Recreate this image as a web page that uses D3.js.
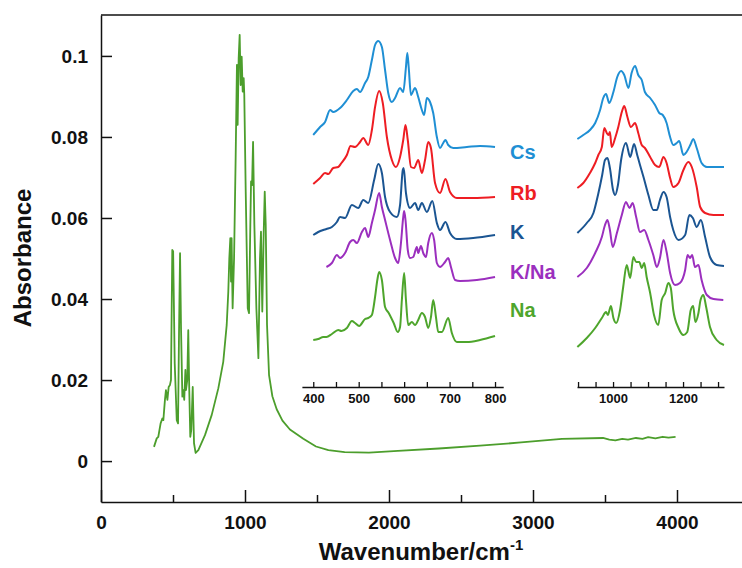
<!DOCTYPE html>
<html><head><meta charset="utf-8">
<script src="https://cdn.jsdelivr.net/npm/d3@7"></script>
<style>
html,body{margin:0;padding:0;background:#fff;}
svg{display:block;font-family:"Liberation Sans",Arial,sans-serif;font-weight:bold;}
</style></head><body>
<svg id="c" width="742" height="568"></svg>
<script>
// ---------- main spectrum (Na) ----------
const mainWavenumber = [368,387,398,414,426,433,444,451,461,470,479,486,495,501,512,526,535,542,549,556,565,572,578,586,590,599,606,613,620,627,637,646,657,676,722,769,815,849,873,884,891,898,903,907,914,924,935,944,949,956,963,970,977,984,991,995,1005,1019,1028,1037,1042,1049,1056,1065,1079,1093,1104,1111,1120,1130,1137,1144,1153,1167,1190,1220,1260,1312,1405,1493,1579,1692,1861,2062,2347,2632,2917,3201,3486,3530,3572,3620,3660,3715,3760,3800,3850,3900,3941,3990];
const mainAbsorbance = [0.0035,0.0056,0.0060,0.0093,0.0105,0.0101,0.0151,0.0175,0.0151,0.0183,0.0188,0.0200,0.0521,0.0518,0.0241,0.0101,0.0093,0.0323,0.0513,0.0323,0.0159,0.0175,0.0151,0.0225,0.0175,0.0200,0.0323,0.0175,0.0060,0.0077,0.0183,0.0044,0.0020,0.0027,0.0064,0.0114,0.0180,0.0245,0.0336,0.0418,0.0500,0.0550,0.0443,0.0550,0.0377,0.0500,0.0747,0.0978,0.0830,0.0994,0.1052,0.0928,0.0998,0.0912,0.0945,0.0904,0.0665,0.0377,0.0365,0.0583,0.0690,0.0681,0.0788,0.0583,0.0377,0.0254,0.0500,0.0566,0.0369,0.0566,0.0665,0.0583,0.0336,0.0212,0.0160,0.0128,0.0100,0.0078,0.0055,0.0036,0.0027,0.0022,0.0021,0.0025,0.0031,0.0038,0.0046,0.0055,0.0057,0.0053,0.0051,0.0055,0.0053,0.0057,0.0055,0.0059,0.0056,0.0060,0.0058,0.0060];
const mainYTicks = [0,0.02,0.04,0.06,0.08,0.1];
const mainYTickLabels = ["0","0.02","0.04","0.06","0.08","0.1"];
const mainXTicks = [0,1000,2000,3000,4000];
const mainXMinor = [500,1500,2500,3500,4500];

// ---------- inset spectra (stacked, arbitrary units) ----------
const seriesNames = ["Cs","Rb","K","K/Na","Na"];
const seriesColors = ["#1f8fd4","#ee1d23","#1b5592","#9b2fbe","#4ea52c"];

// left panel 400-800 cm-1
const csLeftX = [400,415,426,437,444,459,474,488,496,503,514,521,529,536,543,551,558,565,573,580,591,598,604,607,610,615,624,631,639,644,650,657,664,672,679,686,691,697,708,738,767,800];
const csLeftY = [2.65,2.73,2.78,2.90,2.88,2.92,3.00,3.09,3.11,3.08,3.17,3.23,3.40,3.55,3.59,3.53,3.30,3.07,2.98,3.02,3.12,3.08,3.33,3.47,3.33,3.05,3.12,3.03,2.90,2.85,3.02,2.98,2.87,2.63,2.52,2.57,2.60,2.55,2.52,2.53,2.54,2.53];
const rbLeftX = [400,415,426,433,444,455,462,474,482,492,503,510,521,529,536,545,553,562,573,582,591,598,603,608,615,622,631,639,646,653,659,668,679,691,701,716,752,800];
const rbLeftY = [2.16,2.22,2.27,2.26,2.32,2.33,2.37,2.45,2.54,2.53,2.58,2.62,2.55,2.70,2.93,3.09,2.97,2.63,2.40,2.33,2.43,2.60,2.75,2.60,2.33,2.32,2.40,2.27,2.40,2.58,2.52,2.17,2.07,2.21,2.08,2.02,2.02,2.03];
const kLeftX = [400,411,422,429,441,452,459,470,485,499,510,521,534,543,551,558,569,584,591,597,599,604,613,624,631,639,650,662,672,679,691,701,716,752,800];
const kLeftY = [1.65,1.68,1.70,1.71,1.73,1.78,1.83,1.82,1.95,1.92,2.00,1.97,2.20,2.36,2.27,2.03,1.88,1.83,1.95,2.30,2.32,2.07,1.92,1.97,1.90,1.97,1.88,1.99,1.77,1.70,1.78,1.67,1.61,1.62,1.65];
const knaLeftX = [429,441,452,459,470,481,488,496,507,514,521,529,536,545,551,558,569,580,587,593,598,600,603,608,613,620,628,631,637,642,648,653,661,666,672,679,690,697,703,712,723,760,800];
const knaLeftY = [1.33,1.37,1.45,1.42,1.47,1.58,1.60,1.57,1.68,1.72,1.63,1.77,1.90,2.07,1.93,1.80,1.60,1.42,1.37,1.57,1.83,1.89,1.80,1.50,1.42,1.43,1.53,1.47,1.54,1.47,1.43,1.57,1.67,1.60,1.37,1.33,1.38,1.42,1.33,1.20,1.19,1.20,1.23];
const naLeftX = [400,411,422,429,441,455,462,474,485,492,501,514,521,529,536,541,545,551,558,566,577,586,591,595,600,604,609,617,624,631,639,646,653,659,664,670,675,683,697,705,716,738,767,800];
const naLeftY = [0.60,0.61,0.63,0.63,0.66,0.70,0.69,0.72,0.79,0.77,0.74,0.81,0.82,0.85,1.03,1.20,1.28,1.20,0.93,0.87,0.77,0.68,0.73,1.00,1.27,1.00,0.75,0.78,0.75,0.80,0.87,0.83,0.72,0.83,1.00,0.83,0.68,0.68,0.82,0.67,0.58,0.58,0.60,0.64];

// right panel 900-1300 cm-1
const csRightX = [898,915,934,949,963,972,980,989,1001,1012,1023,1032,1044,1053,1063,1072,1082,1091,1106,1120,1132,1142,1153,1163,1172,1182,1189,1201,1210,1222,1229,1239,1253,1268,1317];
const csRightY = [2.61,2.65,2.70,2.77,2.90,3.02,3.06,2.97,3.08,3.23,3.29,3.25,3.12,3.27,3.34,3.25,3.20,3.08,3.02,2.95,2.87,2.85,2.77,2.63,2.55,2.57,2.59,2.45,2.48,2.56,2.61,2.52,2.37,2.33,2.33];
const rbRightX = [898,915,934,949,958,968,975,982,987,991,996,1006,1015,1025,1032,1041,1051,1063,1072,1082,1091,1106,1120,1132,1144,1153,1163,1172,1187,1201,1215,1225,1239,1249,1263,1287,1317];
const rbRightY = [2.12,2.17,2.27,2.37,2.45,2.53,2.72,2.67,2.65,2.68,2.53,2.62,2.73,2.88,2.94,2.83,2.73,2.77,2.67,2.55,2.52,2.43,2.35,2.33,2.43,2.37,2.22,2.13,2.17,2.30,2.38,2.33,2.13,1.93,1.87,1.85,1.85];
const kRightX = [898,925,944,957,969,977,984,991,1000,1006,1014,1023,1037,1049,1060,1069,1077,1087,1101,1115,1125,1134,1144,1153,1163,1172,1187,1206,1218,1228,1239,1251,1263,1277,1296,1317];
const kRightY = [1.67,1.77,1.87,2.05,2.25,2.40,2.42,2.32,2.10,2.05,2.15,2.40,2.57,2.43,2.56,2.45,2.35,2.23,2.05,1.90,1.90,2.00,2.08,2.03,1.83,1.70,1.60,1.65,1.85,1.82,1.73,1.80,1.63,1.43,1.35,1.34];
const knaRightX = [898,925,949,968,977,984,991,999,1011,1025,1037,1047,1056,1066,1077,1089,1101,1115,1125,1134,1144,1153,1163,1177,1191,1206,1213,1220,1226,1234,1244,1253,1268,1287,1315];
const knaRightY = [1.23,1.32,1.47,1.63,1.75,1.80,1.70,1.53,1.67,1.85,1.98,1.92,1.97,1.83,1.68,1.70,1.60,1.45,1.33,1.42,1.60,1.48,1.27,1.15,1.17,1.30,1.45,1.42,1.45,1.33,1.35,1.20,1.05,1.01,1.00];
const naRightX = [898,925,949,968,980,985,994,1001,1009,1020,1029,1039,1049,1058,1066,1075,1082,1089,1096,1106,1117,1129,1139,1149,1158,1165,1172,1187,1201,1212,1222,1229,1235,1244,1250,1258,1266,1277,1296,1317];
const naRightY = [0.53,0.62,0.72,0.82,0.88,0.85,0.94,0.82,0.77,0.90,1.13,1.35,1.22,1.43,1.38,1.38,1.32,1.37,1.23,1.07,0.85,0.75,1.00,1.07,1.17,1.12,0.90,0.72,0.65,0.68,0.90,0.94,0.78,0.87,1.00,1.05,0.93,0.73,0.60,0.55];

const leftTicks = [400,450,500,550,600,650,700,750,800];
const leftTickLabels = [400,500,600,700,800];
const rightTicks = [900,950,1000,1050,1100,1150,1200,1250,1300];
const rightTickLabels = [1000,1200];

// ---------- drawing ----------
const svg = d3.select("#c");
const black = "#111";

const x = d3.scaleLinear().domain([0,4500]).range([101,749]);
const y = d3.scaleLinear().domain([-0.0101,0.1101]).range([502,15]);

// frame top line
svg.append("line").attr("x1",x(0)).attr("x2",x(4500)).attr("y1",y(0.1101)).attr("y2",y(0.1101))
  .attr("stroke",black).attr("stroke-width",1.5);

const yAxis = d3.axisLeft(y).tickValues(mainYTicks)
  .tickFormat((d,i)=>mainYTickLabels[i]).tickSize(-11).tickSizeOuter(0).tickPadding(13);
const gy = svg.append("g").attr("transform",`translate(${x(0)},0)`).call(yAxis);

const xAxis = d3.axisBottom(x).tickValues(mainXTicks).tickFormat(d3.format("d"))
  .tickSize(-12).tickSizeOuter(0).tickPadding(14);
const gx = svg.append("g").attr("transform",`translate(0,${y(-0.0101)})`).call(xAxis);
const xMinor = d3.axisBottom(x).tickValues(mainXMinor).tickFormat("").tickSize(-7).tickSizeOuter(0);
svg.append("g").attr("transform",`translate(0,${y(-0.0101)})`).call(xMinor).select(".domain").remove();

svg.selectAll(".domain").attr("stroke",black).attr("stroke-width",1.5);
svg.selectAll(".tick line").attr("stroke",black).attr("stroke-width",1.5);
gy.selectAll("text").attr("font-size",19).attr("font-weight","bold").attr("fill",black)
  .attr("font-family","Liberation Sans, Arial, sans-serif");
gx.selectAll("text").attr("font-size",19).attr("font-weight","bold").attr("fill",black)
  .attr("font-family","Liberation Sans, Arial, sans-serif");

// axis titles
svg.append("text").attr("transform","translate(31,258) rotate(-90)").attr("text-anchor","middle")
  .attr("font-size",24).attr("fill",black).text("Absorbance");
const xt = svg.append("text").attr("x",421).attr("y",560).attr("text-anchor","middle")
  .attr("font-size",24).attr("fill",black);
xt.append("tspan").text("Wavenumber/cm");
xt.append("tspan").attr("dy",-10).attr("font-size",15).text("-1");

// main spectrum
const mainLine = d3.line().x(d=>x(d[0])).y(d=>y(d[1]));
svg.append("path").datum(mainWavenumber.map((w,i)=>[w,mainAbsorbance[i]]))
  .attr("d",mainLine).attr("fill","none").attr("stroke","#4c9e2c").attr("stroke-width",1.8)
  .attr("stroke-linejoin","round");

// insets
const yi = d3.scaleLinear().domain([0,4]).range([400,0]);
const xl = d3.scaleLinear().domain([375,818]).range([301.9,503.2]);
const xr = d3.scaleLinear().domain([897,1317]).range([577,724]);
const insetAxisY = 387;

function insetAxis(scale, ticks, labels){
  const ax = d3.axisBottom(scale).tickValues(ticks)
    .tickFormat(d=>labels.includes(d)?d:"").tickSize(-5).tickSizeOuter(0).tickPadding(7);
  const g = svg.append("g").attr("transform",`translate(0,${insetAxisY})`).call(ax);
  g.select(".domain").attr("stroke",black).attr("stroke-width",1.5);
  g.selectAll(".tick line").attr("stroke",black).attr("stroke-width",1.3);
  g.selectAll("text").attr("font-size",13).attr("font-weight","bold").attr("fill",black)
   .attr("font-family","Liberation Sans, Arial, sans-serif");
}
insetAxis(xl,leftTicks,leftTickLabels);
insetAxis(xr,rightTicks,rightTickLabels);

const leftSets = [[csLeftX,csLeftY],[rbLeftX,rbLeftY],[kLeftX,kLeftY],[knaLeftX,knaLeftY],[naLeftX,naLeftY]];
const rightSets = [[csRightX,csRightY],[rbRightX,rbRightY],[kRightX,kRightY],[knaRightX,knaRightY],[naRightX,naRightY]];
function drawSet(sets, sx){
  const ln = d3.line().x(d=>sx(d[0])).y(d=>yi(d[1])).curve(d3.curveMonotoneX);
  sets.forEach((s,i)=>{
    svg.append("path").datum(s[0].map((w,j)=>[w,s[1][j]])).attr("d",ln)
      .attr("fill","none").attr("stroke",seriesColors[i]).attr("stroke-width",2)
      .attr("stroke-linejoin","round");
  });
}
drawSet(leftSets,xl);
drawSet(rightSets,xr);

// series labels
const labelY = [159,200,239,279,317];
seriesNames.forEach((n,i)=>{
  svg.append("text").attr("x",510).attr("y",labelY[i]).attr("font-size",20)
    .attr("fill",seriesColors[i]).text(n);
});
</script></body></html>
